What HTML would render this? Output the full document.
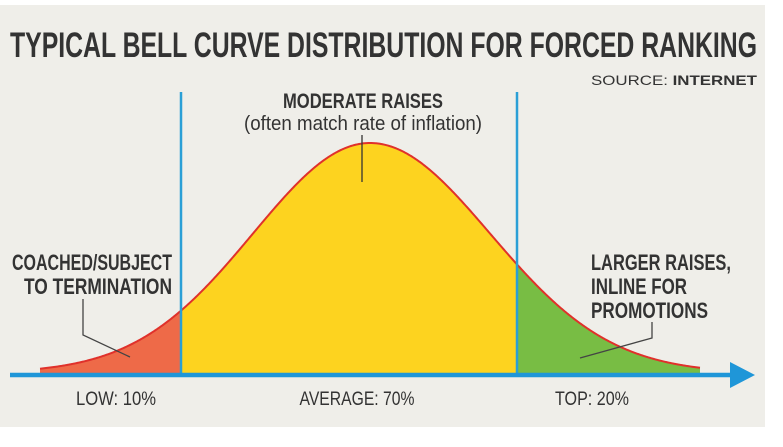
<!DOCTYPE html>
<html><head><meta charset="utf-8"><style>
html,body{margin:0;padding:0;background:#fff;}
svg{display:block}
text{font-family:"Liberation Sans Narrow","Liberation Sans",sans-serif;fill:#333;}
</style></head><body>
<svg id="s" width="783" height="447" viewBox="0 0 783 447">
<rect x="0" y="5" width="765" height="422" fill="#efeee9"/>
<text x="10" y="57" font-size="35" font-weight="bold" textLength="747" lengthAdjust="spacingAndGlyphs">TYPICAL BELL CURVE DISTRIBUTION FOR FORCED RANKING</text>
<text x="757" y="85" font-size="14" text-anchor="end" textLength="166" lengthAdjust="spacingAndGlyphs">SOURCE: <tspan font-weight="bold">INTERNET</tspan></text>
<path id="red" fill="#ee6a48"/>
<path id="yel" fill="#fdd31f"/>
<path id="grn" fill="#78bd44"/>
<path id="crv" fill="none" stroke="#e0312b" stroke-width="2"/>
<line x1="181" y1="92" x2="181" y2="375" stroke="#2a9fd6" stroke-width="2.5"/>
<line x1="517" y1="92" x2="517" y2="375" stroke="#2a9fd6" stroke-width="2.5"/>
<line x1="10" y1="375" x2="735" y2="375" stroke="#1f96d8" stroke-width="4.5"/>
<polygon points="730,362 755,375 730,388" fill="#1f96d8"/>
<text x="363" y="108" font-size="21" font-weight="bold" text-anchor="middle" textLength="160" lengthAdjust="spacingAndGlyphs">MODERATE RAISES</text>
<text x="363" y="130" font-size="20" text-anchor="middle" textLength="238" lengthAdjust="spacingAndGlyphs">(often match rate of inflation)</text>
<line x1="362" y1="135" x2="362" y2="182" stroke="#333" stroke-width="1.3"/>
<text x="172" y="270" font-size="22" font-weight="bold" text-anchor="end" textLength="160" lengthAdjust="spacingAndGlyphs">COACHED/SUBJECT</text>
<text x="172" y="294" font-size="22" font-weight="bold" text-anchor="end" textLength="148" lengthAdjust="spacingAndGlyphs">TO TERMINATION</text>
<polyline points="83,299 83,335 130,357" fill="none" stroke="#444" stroke-width="1.3"/>
<text x="591" y="270" font-size="22" font-weight="bold" textLength="140" lengthAdjust="spacingAndGlyphs">LARGER RAISES,</text>
<text x="591" y="294" font-size="22" font-weight="bold" textLength="96" lengthAdjust="spacingAndGlyphs">INLINE FOR</text>
<text x="591" y="318" font-size="22" font-weight="bold" textLength="117" lengthAdjust="spacingAndGlyphs">PROMOTIONS</text>
<polyline points="652,322 652,338 580,358" fill="none" stroke="#444" stroke-width="1.3"/>
<text x="116" y="405" font-size="19" text-anchor="middle" textLength="80" lengthAdjust="spacingAndGlyphs">LOW: 10%</text>
<text x="357" y="405" font-size="19" text-anchor="middle" textLength="115" lengthAdjust="spacingAndGlyphs">AVERAGE: 70%</text>
<text x="592" y="405" font-size="19" text-anchor="middle" textLength="74" lengthAdjust="spacingAndGlyphs">TOP: 20%</text>
</svg>
<script>
function y(x){var s=x<370?117:120;var d=(x-370)/s;return 373-230*Math.exp(-d*d/2);}
function area(a,b){var p="M"+a+",373";for(var x=a;x<=b;x+=1)p+=" L"+x+","+y(x).toFixed(2);p+=" L"+b+","+y(b).toFixed(2)+" L"+b+",373 Z";return p;}
document.getElementById("red").setAttribute("d",area(40,181));
document.getElementById("yel").setAttribute("d",area(181,517));
document.getElementById("grn").setAttribute("d",area(517,700));
var p="M40,"+y(40).toFixed(2);for(var x=41;x<=700;x++)p+=" L"+x+","+y(x).toFixed(2);
document.getElementById("crv").setAttribute("d",p);
</script>
</body></html>
